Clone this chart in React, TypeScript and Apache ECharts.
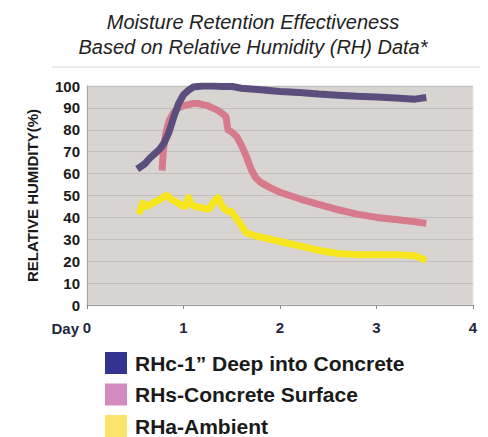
import React, { useEffect, useRef } from "react";
import * as echarts from "echarts";

const titleLines = ["Moisture Retention Effectiveness", "Based on Relative Humidity (RH) Data*"];
const seriesNames = ["RHc-1\u201D Deep into Concrete", "RHs-Concrete Surface", "RHa-Ambient"];
const lineColors = ["#5c4e7c", "#d67a8c", "#f7e51e"];
const legendColors = ["#33348f", "#d48cc0", "#fbe46c"];

const deepDays = [0.55, 0.6, 0.65, 0.7, 0.75, 0.8, 0.85, 0.9, 0.95, 1.0, 1.05, 1.1, 1.2, 1.3, 1.4, 1.49, 1.5, 1.53, 1.6, 1.8, 2.0, 2.2, 2.4, 2.6, 2.8, 3.0, 3.2, 3.4, 3.48];
const deepVals = [63, 64.5, 67, 69, 71, 74, 79, 86, 92, 96, 98, 99.5, 100, 100, 99.8, 99.8, null, 99.6, 99, 98.3, 97.5, 97, 96.3, 95.8, 95.3, 95, 94.5, 94, 94.5];

const surfDays = [0.78, 0.79, 0.8, 0.82, 0.85, 0.9, 0.95, 1.0, 1.05, 1.1, 1.15, 1.2, 1.25, 1.3, 1.35, 1.4, 1.44, 1.46, 1.5, 1.55, 1.6, 1.65, 1.7, 1.75, 1.8, 1.9, 2.0, 2.1, 2.2, 2.4, 2.6, 2.8, 3.0, 3.2, 3.4, 3.48];
const surfVals = [63, 70, 74, 79, 84, 88, 90, 91, 91.5, 92, 92, 91.5, 91, 90, 89, 87.5, 86, 80, 79, 77, 73, 68, 62, 58, 56, 53.5, 51.5, 50, 48.5, 46, 43.5, 41.5, 40, 39, 38, 37.5];

const ambDays = [0.55, 0.58, 0.62, 0.66, 0.7, 0.75, 0.8, 0.83, 0.88, 0.93, 0.98, 1.02, 1.05, 1.08, 1.12, 1.18, 1.22, 1.27, 1.32, 1.36, 1.4, 1.45, 1.5, 1.54, 1.59, 1.65, 1.75, 1.85, 2.0, 2.2, 2.4, 2.6, 2.8, 3.0, 3.2, 3.4, 3.48];
const ambVals = [43, 46.5, 45, 46, 47, 48, 49.5, 50, 48, 47, 45.5, 45, 49, 46, 45, 44.5, 44, 44, 47.5, 49, 45, 43, 42.5, 40, 37, 33, 31.5, 30.5, 29, 27, 25, 23.5, 23, 23, 23, 22.5, 21];

const yMin = 0;
const yMax = 100;
const yStep = 10;
const xMin = 0;
const xMax = 4;
const xStep = 1;

function pairs(xs: number[], ys: (number | null)[]) {
  return xs.map((x, i) => [x, ys[i] === null ? "-" : ys[i]]);
}

export default function App() {
  const ref = useRef<HTMLDivElement>(null);
  useEffect(() => {
    if (!ref.current) return;
    const chart = echarts.init(ref.current, null, { renderer: "svg" });
    const font = "Liberation Sans";
    const datasets = [pairs(deepDays, deepVals), pairs(surfDays, surfVals), pairs(ambDays, ambVals)];
    const widths = [7, 7, 7];
    chart.setOption({
      animation: false,
      backgroundColor: "#ffffff",
      title: {
        text: titleLines.join("\n"),
        left: 248,
        textAlign: "center",
        top: 4,
        textStyle: {
          fontFamily: font,
          fontStyle: "italic",
          fontWeight: "normal",
          fontSize: 20,
          lineHeight: 25,
          color: "#222222",
        },
      },
      graphic: [
        {
          type: "line",
          shape: { x1: 52, y1: 67, x2: 480, y2: 67 },
          style: { stroke: "#ebebeb", lineWidth: 2 },
        },
        {
          type: "text",
          x: 79,
          y: 328,
          style: {
            text: "Day",
            fontFamily: font,
            fontWeight: "bold",
            fontSize: 15,
            fill: "#1f2640",
            textAlign: "right",
            textVerticalAlign: "middle",
          },
        },
      ],
      legend: {
        orient: "vertical",
        left: 105,
        top: 352,
        padding: 0,
        itemWidth: 22,
        itemHeight: 22,
        itemGap: 9.5,
        icon: "rect",
        selectedMode: false,
        textStyle: { fontFamily: font, fontWeight: "bold", fontSize: 21, color: "#1a1a1a", padding: [0, 0, 0, 3] },
        data: seriesNames.map((n, i) => ({ name: n, itemStyle: { color: legendColors[i] } })),
      },
      grid: {
        left: 87,
        top: 86,
        right: 15,
        bottom: 132,
        show: true,
        backgroundColor: "#d7d4d1",
        borderColor: "#e6e6e6",
        borderWidth: 1,
      },
      xAxis: {
        type: "value",
        min: xMin,
        max: xMax,
        interval: xStep,
        axisLine: { show: true, lineStyle: { color: "#9a9a9a" } },
        axisTick: { show: true, length: 4, lineStyle: { color: "#8a8a8a" } },
        splitLine: { show: false },
        axisLabel: {
          margin: 15,
          fontFamily: font,
          fontWeight: "bold",
          fontSize: 15,
          color: "#1f2640",
        },
      },
      yAxis: {
        type: "value",
        min: yMin,
        max: yMax,
        interval: yStep,
        name: "RELATIVE HUMIDITY(%)",
        nameLocation: "middle",
        nameGap: 47,
        nameTextStyle: { fontFamily: font, fontWeight: "bold", fontSize: 15, color: "#1a1a1a" },
        axisLine: { show: true, lineStyle: { color: "#a8a8a8" } },
        axisTick: { show: false },
        splitLine: { show: true, lineStyle: { color: "#c2bebb", width: 1 } },
        axisLabel: {
          margin: 7,
          fontFamily: font,
          fontWeight: "bold",
          fontSize: 15,
          color: "#1a1a1a",
        },
      },
      series: seriesNames.map((n, i) => ({
        name: n,
        type: "line",
        data: datasets[i],
        showSymbol: false,
        symbol: "none",
        connectNulls: false,
        lineStyle: { color: lineColors[i], width: widths[i], cap: "square", join: "round" },
        itemStyle: { color: legendColors[i] },
        z: 3 - i,
      })),
    });
    return () => chart.dispose();
  }, []);
  return <div ref={ref} style={{ width: 488, height: 437, margin: "-8px 0 0 -8px" }} />;
}
